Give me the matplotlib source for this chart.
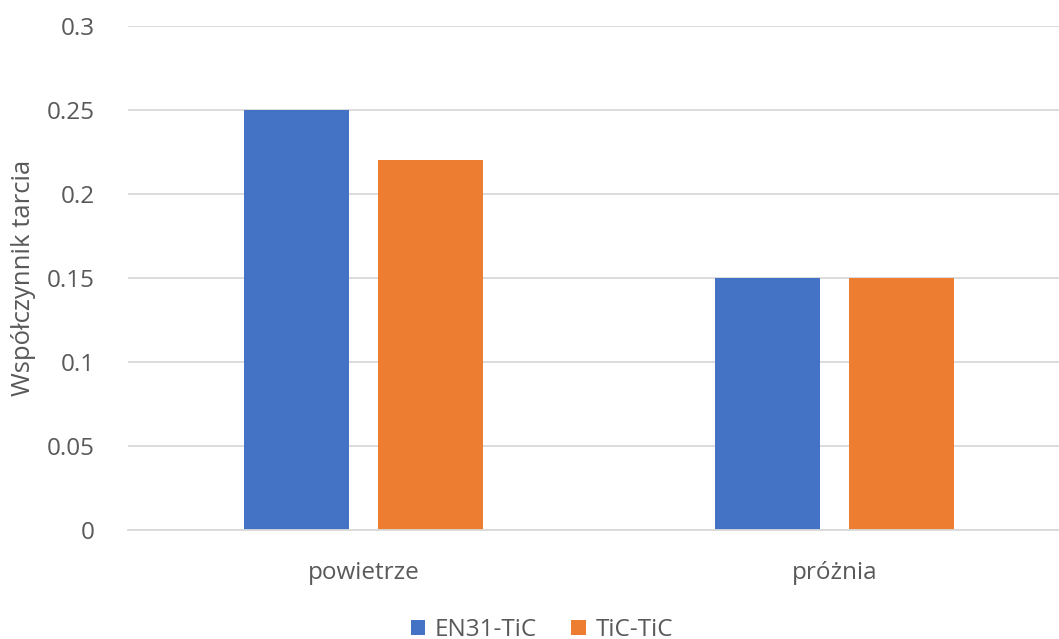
import matplotlib
matplotlib.use("Agg")
import matplotlib.pyplot as plt
import numpy as np

categories = ["powietrze", "próżnia"]
series_names = ["EN31-TiC", "TiC-TiC"]
en31 = [0.25, 0.15]
tic = [0.22, 0.15]
yticks = [0, 0.05, 0.1, 0.15, 0.2, 0.25, 0.3]
ytick_labels = ["0", "0.05", "0.1", "0.15", "0.2", "0.25", "0.3"]

plt.rcParams['font.family'] = ['Open Sans', 'DejaVu Sans']
W, H = 1059, 639
fig = plt.figure(figsize=(W/100, H/100), dpi=100)
ax = fig.add_axes([128/W, (H-530)/H, (W-128)/W, (530-26)/H])

x = np.arange(len(categories))
bw = 0.222
off = 0.142
b1 = ax.bar(x - off, en31, bw, color="#4472C4", label=series_names[0], zorder=3)
b2 = ax.bar(x + off, tic, bw, color="#ED7D31", label=series_names[1], zorder=3)

ax.set_xlim(-0.5, 1.477)
ax.set_ylim(0, 0.3)
ax.set_yticks(yticks)
ax.set_yticklabels(ytick_labels)
ax.set_xticks(x)
ax.set_xticklabels(categories)
ax.grid(axis='y', color="#D9D9D9", linewidth=1.3, zorder=0)
for s in ["top", "right", "left"]:
    ax.spines[s].set_visible(False)
ax.spines["bottom"].set_color("#D9D9D9")
ax.spines["bottom"].set_linewidth(1.3)
ax.spines["bottom"].set_zorder(4)
ax.tick_params(axis='both', length=0, colors="#595959", labelsize=17.5)
ax.tick_params(axis='y', pad=24)
ax.tick_params(axis='x', pad=22)
ax.set_ylabel("Współczynnik tarcia", fontsize=18.5, color="#595959")
ax.yaxis.set_label_coords(-92/(W-128), 0.5)

fig.legend(handles=[b1, b2], labels=series_names, loc="center", bbox_to_anchor=(542/W, (H-630)/H),
           ncol=2, frameon=False, fontsize=17.5, labelcolor="#595959",
           handlelength=0.6, handleheight=0.6, handletextpad=0.4, columnspacing=1.4)

fig.savefig("out.png", dpi=100)
